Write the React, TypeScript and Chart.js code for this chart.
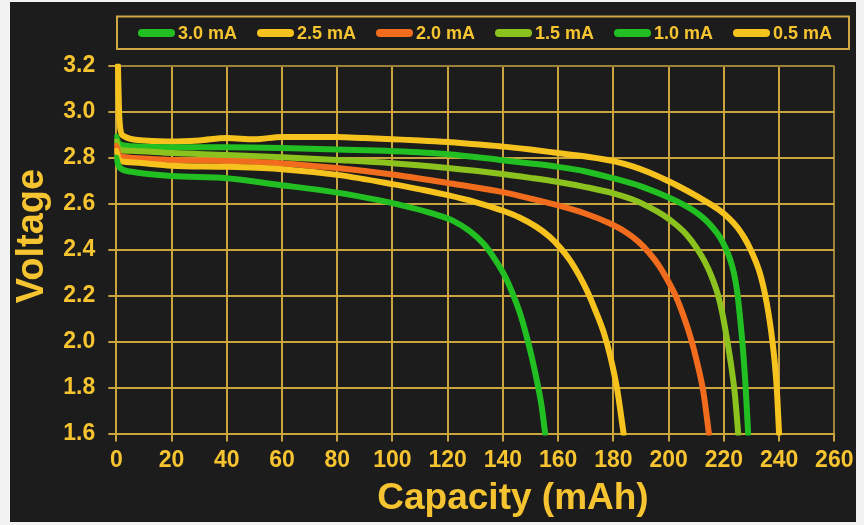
import React, { useEffect, useRef } from "react";
import { Chart, registerables } from "chart.js";

Chart.register(...registerables);

const seriesLabels = ["3.0 mA", "2.5 mA", "2.0 mA", "1.5 mA", "1.0 mA", "0.5 mA"];
const seriesColors = ["#22bf22", "#f6c21e", "#f26c1e", "#8cc21e", "#22bf22", "#f6c21e"];

const xTicks = [0, 20, 40, 60, 80, 100, 120, 140, 160, 180, 200, 220, 240, 260];
const yTicks = [1.6, 1.8, 2.0, 2.2, 2.4, 2.6, 2.8, 3.0, 3.2];

const cap30 = [0, 1, 5, 20, 40, 58, 80, 95, 106, 115, 122, 128, 133, 137, 140.5, 143.5, 146, 148.2, 150.3, 152.3, 154, 155.3];
const volt30 = [2.8, 2.76, 2.74, 2.72, 2.71, 2.683, 2.648, 2.615, 2.585, 2.555, 2.525, 2.48, 2.425, 2.36, 2.29, 2.21, 2.13, 2.04, 1.94, 1.83, 1.72, 1.6];

const cap25 = [0, 1, 5, 20, 40, 60, 80, 100, 110, 120, 130, 139, 146, 152, 157, 161, 164.5, 167.5, 170.5, 173.5, 176.5, 179, 181.4, 183.7];
const volt25 = [2.83, 2.79, 2.78, 2.765, 2.76, 2.75, 2.725, 2.685, 2.662, 2.637, 2.607, 2.573, 2.54, 2.5, 2.455, 2.405, 2.35, 2.29, 2.22, 2.135, 2.04, 1.93, 1.79, 1.6];

const cap20 = [0, 1, 5, 20, 40, 60, 80, 100, 120, 139, 150, 160, 170, 178, 184, 189, 193, 196.5, 199.5, 202.5, 205.3, 207.9, 210.3, 212.6, 214.6];
const volt20 = [2.85, 2.81, 2.8, 2.79, 2.785, 2.775, 2.755, 2.727, 2.69, 2.652, 2.622, 2.592, 2.556, 2.518, 2.48, 2.435, 2.385, 2.33, 2.27, 2.2, 2.115, 2.02, 1.91, 1.78, 1.6];

const cap15 = [0, 1, 5, 20, 40, 60, 80, 100, 120, 139, 150, 160, 170, 180, 187, 193, 198, 202.5, 206.5, 210, 213, 215.5, 217.7, 219.5, 221, 222.6, 224, 225.2];
const volt15 = [2.87, 2.835, 2.83, 2.82, 2.812, 2.802, 2.79, 2.776, 2.755, 2.73, 2.712, 2.694, 2.672, 2.645, 2.618, 2.585, 2.55, 2.51, 2.465, 2.41, 2.35, 2.285, 2.21, 2.12, 2.02, 1.9, 1.77, 1.6];

const cap10 = [0, 1, 5, 20, 40, 60, 80, 100, 120, 139, 150, 160, 170, 180, 190, 199, 205, 209, 213, 216, 218.5, 220.5, 222.2, 223.6, 224.8, 225.9, 226.9, 227.9, 228.8];
const volt10 = [2.89, 2.86, 2.85, 2.845, 2.845, 2.842, 2.835, 2.828, 2.815, 2.79, 2.775, 2.76, 2.74, 2.71, 2.675, 2.632, 2.598, 2.57, 2.533, 2.495, 2.455, 2.41, 2.36, 2.3, 2.22, 2.1, 1.97, 1.8, 1.6];

const cap05 = [0.6, 1.0, 1.4, 2.5, 10, 20, 30, 40, 50, 60, 70, 80, 90, 100, 110, 120, 130, 140, 150, 160, 170, 180, 187, 193, 200, 205, 211, 218, 222, 225, 227.5, 229.5, 231.5, 233, 234.3, 235.5, 236.6, 237.6, 238.5, 239.3, 240];
const volt05 = [3.2, 3.0, 2.93, 2.895, 2.875, 2.87, 2.875, 2.885, 2.88, 2.89, 2.89, 2.89, 2.885, 2.88, 2.875, 2.868, 2.858, 2.848, 2.835, 2.82, 2.805, 2.785, 2.762, 2.735, 2.697, 2.667, 2.627, 2.575, 2.535, 2.495, 2.45, 2.405, 2.35, 2.3, 2.24, 2.17, 2.09, 2.0, 1.9, 1.77, 1.6];

const seriesCaps = [cap30, cap25, cap20, cap15, cap10, cap05];
const seriesVolts = [volt30, volt25, volt20, volt15, volt10, volt05];

const xTitle = "Capacity (mAh)";
const yTitle = "Voltage";

const TEXT = "#f6c430";
const GRID = "#caa53e";
const GRID_DIM = "#9c8236";
const FONT = "'Liberation Sans', Arial, sans-serif";

export default function App() {
  const ref = useRef<HTMLCanvasElement | null>(null);

  useEffect(() => {
    if (!ref.current) return;
    const decor = {
      id: "decor",
      afterDraw(chart: any) {
        const ctx = chart.ctx;
        ctx.save();
        // legend box
        ctx.strokeStyle = "#cfa843";
        ctx.lineWidth = 2;
        ctx.strokeRect(117, 16.5, 732, 32.5);
        const cy = 33;
        chart.data.datasets.forEach((ds: any, i: number) => {
          const x0 = 138 + i * 119;
          ctx.fillStyle = ds.borderColor;
          ctx.beginPath();
          (ctx as any).roundRect(x0, cy - 4, 37, 8, 4);
          ctx.fill();
          ctx.fillStyle = TEXT;
          ctx.font = `bold 18px ${FONT}`;
          ctx.textAlign = "left";
          ctx.textBaseline = "middle";
          ctx.fillText(ds.label, x0 + 40, cy + 1);
        });
        // axis titles
        ctx.fillStyle = TEXT;
        ctx.font = `bold 37px ${FONT}`;
        ctx.textAlign = "center";
        ctx.textBaseline = "alphabetic";
        ctx.fillText(xTitle, 513, 509);
        ctx.font = `bold 38px ${FONT}`;
        ctx.translate(43, 236);
        ctx.rotate(-Math.PI / 2);
        ctx.fillText(yTitle, 0, 0);
        ctx.restore();
      },
    };

    const chart = new Chart(ref.current, {
      type: "line",
      data: {
        datasets: seriesLabels.map((label, i) => ({
          label,
          data: seriesCaps[i].map((c, j) => ({ x: c, y: seriesVolts[i][j] })),
          borderColor: seriesColors[i],
          backgroundColor: seriesColors[i],
          borderWidth: 6,
          pointRadius: 0,
          cubicInterpolationMode: "monotone",
          borderCapStyle: "round",
          borderJoinStyle: "round",
          fill: false,
          clip: 2,
        })),
      },
      options: {
        responsive: false,
        animation: false,
        events: [],
        layout: { padding: { top: 65.7, right: 29.7, bottom: 0, left: 0 } },
        plugins: { legend: { display: false }, tooltip: { enabled: false }, title: { display: false } },
        scales: {
          x: {
            type: "linear",
            min: 0,
            max: 260,
            afterFit: (s: any) => { s.height = 91.5; },
            afterBuildTicks: (s: any) => { s.ticks = xTicks.map((v) => ({ value: v })); },
            ticks: {
              color: TEXT,
              font: { family: FONT, size: 23, weight: "bold" },
              padding: 5,
              maxRotation: 0,
              autoSkip: false,
            },
            grid: {
              color: (c: any) => (c.tick && c.tick.value === 260 ? GRID_DIM : GRID),
              lineWidth: 2,
              tickLength: 8,
              tickColor: GRID,
            },
            border: { color: GRID, width: 2 },
          },
          y: {
            type: "linear",
            min: 1.6,
            max: 3.2,
            afterFit: (s: any) => { s.width = 116.3; },
            afterBuildTicks: (s: any) => { s.ticks = yTicks.map((v) => ({ value: v })); },
            ticks: {
              color: TEXT,
              font: { family: FONT, size: 23, weight: "bold" },
              padding: 13,
              autoSkip: false,
              callback: (v: any) => Number(v).toFixed(1),
            },
            grid: {
              color: (c: any) => (c.tick && Math.abs(c.tick.value - 3.2) < 1e-6 ? GRID_DIM : GRID),
              lineWidth: 2,
              tickLength: 8,
              tickColor: GRID,
            },
            border: { color: GRID, width: 2 },
          },
        },
      },
      plugins: [decor],
    } as any);
    return () => chart.destroy();
  }, []);

  return (
    <div style={{ position: "fixed", left: 0, top: 0, width: 864, height: 525, background: "#f2f2f2" }}>
      <div style={{ position: "absolute", left: 10, top: 2, width: 846, height: 520, background: "#1c1c1c" }} />
      <canvas ref={ref} width={864} height={525} style={{ position: "absolute", left: 0, top: 0, width: 864, height: 525 }} />
    </div>
  );
}
